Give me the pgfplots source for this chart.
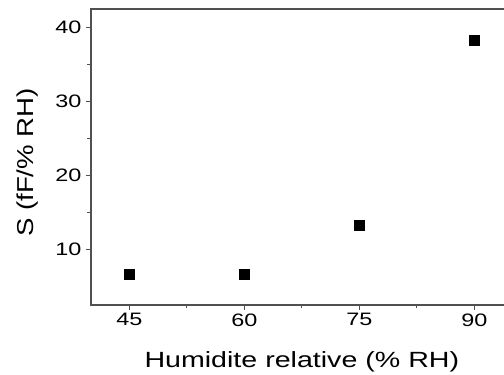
\documentclass[border=0pt]{standalone}
\usepackage{pgfplots}
\pgfplotsset{compat=1.18}
\usepackage{fontspec}
\setmainfont{Liberation Sans}
\definecolor{axgray}{HTML}{505050}
\begin{document}
\begin{tikzpicture}
\useasboundingbox (0,0) rectangle (504pt,375pt);
\begin{axis}[
  at={(91pt,70pt)}, anchor=south west,
  scale only axis,
  width=421.7pt, height=296pt,
  xmin=40, xmax=95, ymin=2.5, ymax=42.5,
  xtick={45,60,75,90}, ytick={10,20,30,40},
  minor x tick num=1, minor y tick num=1,
  tick pos=left, tick align=outside,
  major tick length=5pt, minor tick length=3.5pt,
  axis line style={axgray, line width=1.2pt},
  every tick/.style={axgray, line width=1pt},
  /pgf/number format/assume math mode=true,
  tick label style={font=\fontsize{18}{20}\selectfont, xscale=1.3, text=black},
  every axis x label/.style={at={(axis description cs:0.5,0)}, anchor=base, yshift=-63pt,
     font=\fontsize{22}{24}\selectfont, xscale=1.3},
  every axis y label/.style={at={(axis description cs:-0.1375,0.4814)}, anchor=base, rotate=90,
     font=\fontsize{23}{25}\selectfont, xscale=1.2},
  xlabel={Humidite relative (\% RH)},
  ylabel={S (fF/\% RH)},
  clip=false,
]
\addplot[only marks, mark=square*, mark size=5pt, mark options={fill=black, draw=black}]
  coordinates {(45,6.7) (60,6.7) (75,13.3) (90,38.3)};
\end{axis}
\end{tikzpicture}
\end{document}
